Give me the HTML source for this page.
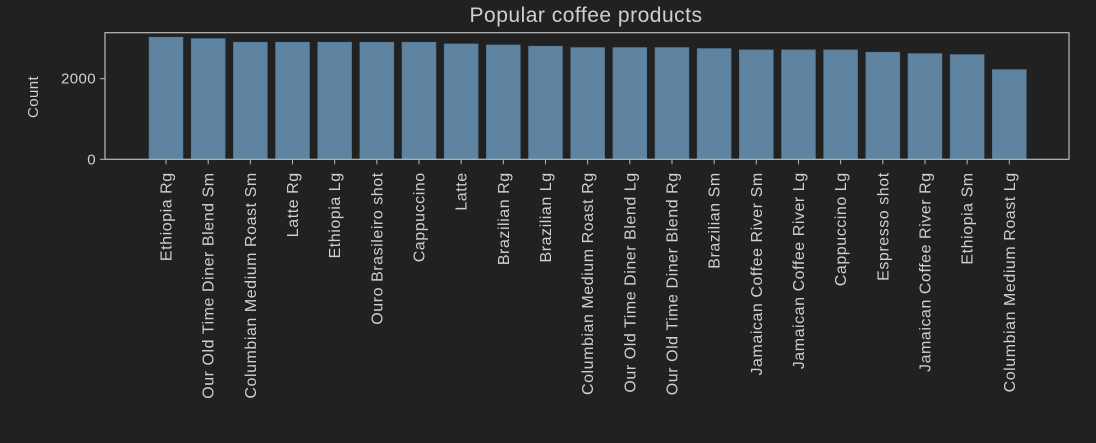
<!DOCTYPE html>
<html><head><meta charset="utf-8"><style>
html,body{margin:0;padding:0;background:#212121;}
svg{display:block;font-family:"Liberation Sans",sans-serif;}
</style></head><body>
<svg id="chart" width="1096" height="443" viewBox="0 0 1096 443" xmlns="http://www.w3.org/2000/svg">
<rect width="1096" height="443" fill="#212121"/>
<text x="586" y="22" text-anchor="middle" font-size="21" letter-spacing="0.5" fill="#cfcfcf">Popular coffee products</text>
<text transform="translate(38,97) rotate(-90)" text-anchor="middle" font-size="15" letter-spacing="0.4" fill="#cfcfcf">Count</text>
<g id="bars"></g>
<g id="axes"></g>
</svg>
<script>
const categories = ["Ethiopia Rg","Our Old Time Diner Blend Sm","Columbian Medium Roast Sm","Latte Rg","Ethiopia Lg","Ouro Brasileiro shot","Cappuccino","Latte","Brazilian Rg","Brazilian Lg","Columbian Medium Roast Rg","Our Old Time Diner Blend Lg","Our Old Time Diner Blend Rg","Brazilian Sm","Jamaican Coffee River Sm","Jamaican Coffee River Lg","Cappuccino Lg","Espresso shot","Jamaican Coffee River Rg","Ethiopia Sm","Columbian Medium Roast Lg"];
const counts = [3027,2993,2903,2903,2903,2903,2903,2861,2836,2804,2770,2770,2770,2745,2712,2712,2712,2655,2621,2596,2224];
const yTicks = [0,2000];

const NS="http://www.w3.org/2000/svg";
const L=105,R=1069,T=32.7,B=159.3;
const yMax=3141;
const xMin=-1.447, xMax=21.416;
function xs(i){return L+(i-xMin)/(xMax-xMin)*(R-L);}
function ys(v){return B-v/yMax*(B-T);}
const bw=0.8*(R-L)/(xMax-xMin);
const bars=document.getElementById('bars'), axes=document.getElementById('axes');
function mk(tag,attrs,parent){const e=document.createElementNS(NS,tag);for(const k in attrs)e.setAttribute(k,attrs[k]);parent.appendChild(e);return e;}
counts.forEach((v,i)=>{
  const r=mk('rect',{x:xs(i)-bw/2,y:ys(v),width:bw,height:ys(0)-ys(v),fill:'#5e84a2',stroke:'#557a97','stroke-width':0.8},bars);
  
  
  const t=mk('line',{x1:xs(i),x2:xs(i),y1:B,y2:B+5,stroke:'#bbbbbb','stroke-width':1},axes);
  
  
  const lb=mk('text',{transform:`translate(${xs(i)+5.5},${B+13}) rotate(-90)`,'text-anchor':'end','font-size':16,'letter-spacing':0.55,fill:'#cfcfcf'},axes);
  lb.textContent=categories[i];
  
  
});
yTicks.forEach(v=>{
  const t=mk('line',{x1:L-5,x2:L,y1:ys(v),y2:ys(v),stroke:'#bbbbbb','stroke-width':1},axes);
  
  
  const lb=mk('text',{x:L-9,y:ys(v)+5,'text-anchor':'end','font-size':15,'letter-spacing':0.4,fill:'#cfcfcf'},axes);
  lb.textContent=String(v);
  
  
});
const fr=mk('rect',{x:L,y:T,width:R-L,height:B-T,fill:'none',stroke:'#bbbbbb','stroke-width':1.2},axes);


</script>
</body></html>
